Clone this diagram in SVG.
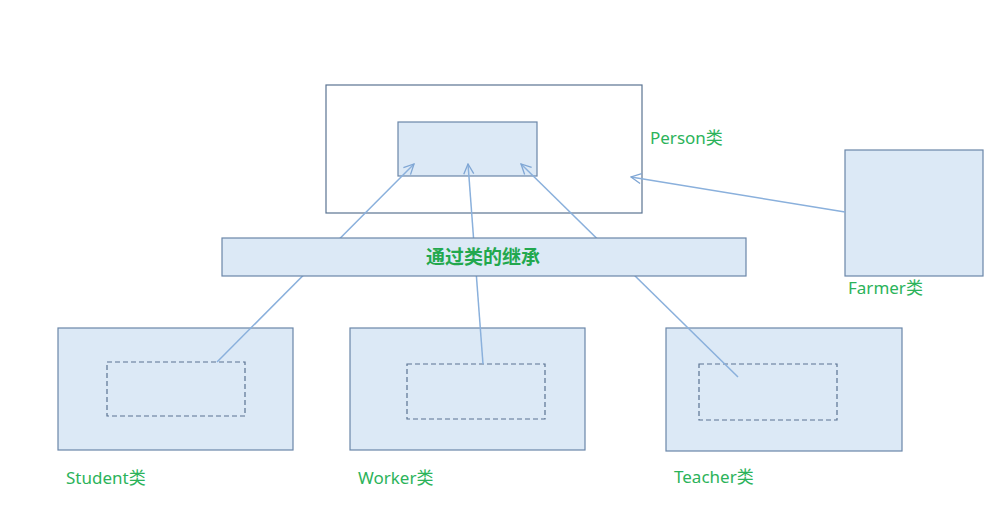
<svg xmlns="http://www.w3.org/2000/svg" width="988" height="523" viewBox="0 0 988 523">
<defs>
<marker id="arr" viewBox="0 0 12 12" refX="11" refY="6" markerWidth="12" markerHeight="12" markerUnits="userSpaceOnUse" orient="auto">
<path d="M1,1 L11,6 L1,11" fill="none" stroke="#7fa6d4" stroke-width="1.3"/>
</marker>
<style>
.box{fill:#dce9f6;stroke:#6a86a8;stroke-width:1.2}
.outer{fill:#ffffff;stroke:#5a7392;stroke-width:1.2}
.dash{fill:none;stroke:#5a7392;stroke-width:1.2;stroke-dasharray:5,3}
.lbl{font-family:"Noto Sans","Noto Sans CJK SC",sans-serif;font-size:17px;fill:#2bb35a}
.title{font-family:"Noto Sans CJK SC",sans-serif;font-size:19px;font-weight:bold;fill:#22a84e}
.conn{stroke:#8ab0dc;stroke-width:1.5;fill:none}
</style>
</defs>
<rect width="988" height="523" fill="#ffffff"/>
<g id="person">
<rect class="outer" x="326" y="85" width="316" height="128"/>
<rect class="box" x="398" y="122" width="139" height="54"/>
<text class="lbl" x="650" y="144">Person类</text>
</g>
<g id="farmer">
<rect class="box" x="845" y="150" width="138" height="126"/>
<text class="lbl" x="848" y="294">Farmer类</text>
</g>
<g id="student">
<rect class="box" x="58" y="328" width="235" height="122"/>
<rect class="dash" x="107" y="362" width="138" height="54"/>
<text class="lbl" x="66" y="484">Student类</text>
</g>
<g id="worker">
<rect class="box" x="350" y="328" width="235" height="122"/>
<rect class="dash" x="407" y="364" width="138" height="55"/>
<text class="lbl" x="358" y="484">Worker类</text>
</g>
<g id="teacher">
<rect class="box" x="666" y="328" width="236" height="123"/>
<rect class="dash" x="699" y="364" width="138" height="56"/>
<text class="lbl" x="674" y="483">Teacher类</text>
</g>
<g id="connectors">
<line class="conn" x1="217" y1="362" x2="414" y2="164" marker-end="url(#arr)"/>
<line class="conn" x1="483" y1="364" x2="468" y2="164" marker-end="url(#arr)"/>
<line class="conn" x1="738" y1="377" x2="521" y2="164" marker-end="url(#arr)"/>
<line class="conn" x1="845" y1="212" x2="631" y2="177" marker-end="url(#arr)"/>
</g>
<g id="inherit">
<rect class="box" x="222" y="238" width="524" height="38"/>
<text class="title" x="483" y="264" text-anchor="middle">通过类的继承</text>
</g>
</svg>
